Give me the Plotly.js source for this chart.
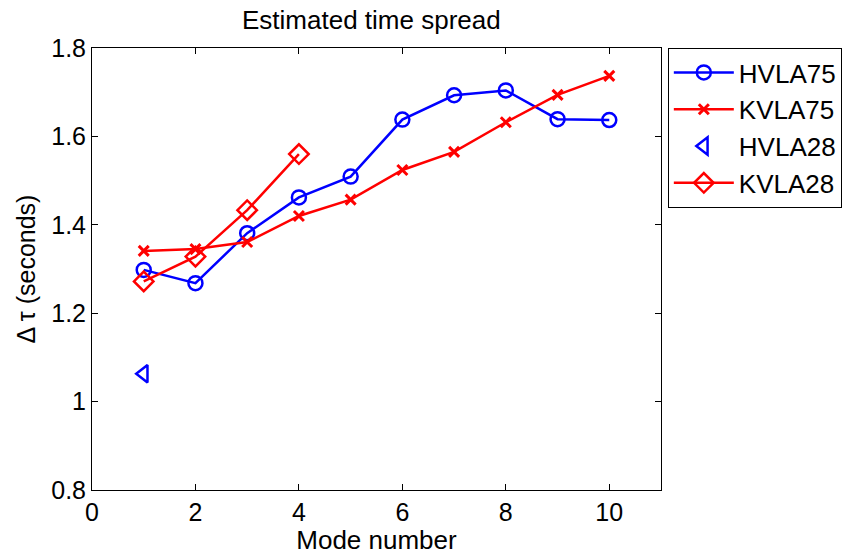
<!DOCTYPE html>
<html><head><meta charset="utf-8">
<script src="https://cdn.plot.ly/plotly-3.0.1.min.js"></script>
<style>html,body{margin:0;padding:0;background:#fff;}#chart{width:859px;height:555px;}</style>
</head><body><div id="chart"></div>
<script>
const modes75 = [1,2,3,4,5,6,7,8,9,10];
const hvla75 = [1.298,1.268,1.381,1.462,1.509,1.638,1.693,1.704,1.639,1.637];
const kvla75 = [1.341,1.345,1.361,1.420,1.457,1.524,1.565,1.632,1.694,1.737];
const modesH28 = [1];
const hvla28 = [1.063];
const modesK28 = [1,2,3,4];
const kvla28 = [1.272,1.328,1.433,1.560];
const seriesNames = ['HVLA75','KVLA75','HVLA28','KVLA28'];

const blue = '#0000ff', red = '#ff0000';
const traces = [
  {x: modes75, y: hvla75, name: seriesNames[0], mode: 'lines+markers',
   line: {color: blue, width: 2.5},
   marker: {symbol: 'circle-open', size: 14, color: blue, line: {width: 2.5, color: blue}}},
  {x: modes75, y: kvla75, name: seriesNames[1], mode: 'lines+markers',
   line: {color: red, width: 2.5},
   marker: {symbol: 'x-thin-open', size: 10, color: red, line: {width: 3, color: red}}},
  {x: modesH28, y: hvla28, name: seriesNames[2], mode: 'markers',
   marker: {symbol: 'triangle-left-open', size: 15, color: blue, line: {width: 2.5, color: blue}}},
  {x: modesK28, y: kvla28, name: seriesNames[3], mode: 'lines+markers',
   line: {color: red, width: 2.5},
   marker: {symbol: 'diamond-open', size: 15, color: red, line: {width: 2.5, color: red}}}
];

const FONT = 'Liberation Sans, Arial, Helvetica, sans-serif';
const axisCommon = {
  showgrid: false, zeroline: false, showline: true, mirror: 'ticks',
  linecolor: '#000', linewidth: 1, ticks: 'inside', ticklen: 6, tickcolor: '#000',
  tickfont: {family: FONT, size: 25, color: '#000'}
};
const layout = {
  width: 859, height: 555,
  margin: {l: 92, r: 198, t: 48, b: 65},
  paper_bgcolor: '#fff', plot_bgcolor: '#fff',
  font: {family: FONT, color: '#000'},
  title: {text: 'Estimated time spread', font: {size: 26, color: '#000'},
          x: 0.491, xanchor: 'center', xref: 'paper', y: 1, yref: 'paper', yanchor: 'bottom',
          pad: {b: 19}},
  xaxis: Object.assign({}, axisCommon, {range: [0, 11], tickvals: [0,2,4,6,8,10],
    title: {text: 'Mode number', font: {size: 26}, standoff: 0}}),
  yaxis: Object.assign({}, axisCommon, {range: [0.8, 1.8], tickvals: [0.8,1,1.2,1.4,1.6,1.8],
    ticktext: ['0.8','1','1.2','1.4','1.6','1.8'],
    title: {text: 'Δ τ (seconds)', font: {size: 25}, standoff: 8}}),
  showlegend: true,
  legend: {x: 1.012, xanchor: 'left', y: 1, yanchor: 'top',
    bordercolor: '#000', borderwidth: 1, bgcolor: '#fff',
    font: {size: 26, color: '#000'}, tracegroupgap: 0, itemwidth: 60}
};
Plotly.newPlot('chart', traces, layout, {displayModeBar: false, staticPlot: true});
</script></body></html>
